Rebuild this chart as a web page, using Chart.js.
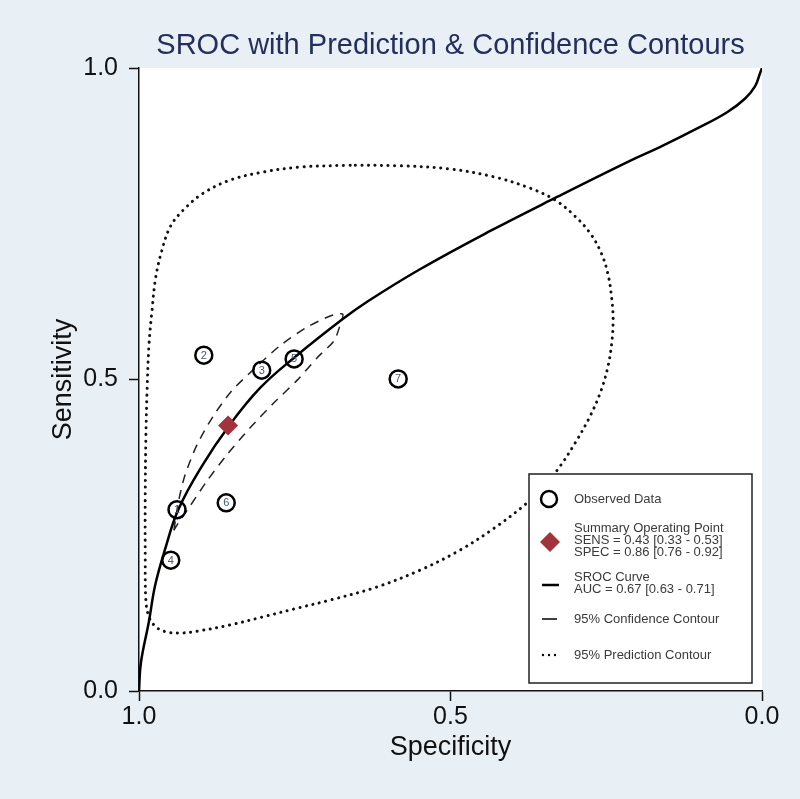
<!DOCTYPE html>
<html>
<head>
<meta charset="utf-8">
<script src="https://cdn.jsdelivr.net/npm/chart.js@4.4.0/dist/chart.umd.min.js"></script>
<style>
  html, body { margin: 0; padding: 0; background: #e9f0f5; }
  #wrap { width: 800px; height: 799px; }
</style>
</head>
<body>
<div id="wrap"><canvas id="sroc" width="800" height="799"></canvas></div>
<script>
// observed studies
const studyIds = ['1', '2', '3', '4', '5', '6', '7']
const studySpec = [0.939, 0.896, 0.803, 0.949, 0.751, 0.860, 0.584]
const studySens = [0.291, 0.539, 0.515, 0.210, 0.533, 0.302, 0.501]

// summary operating point
const summarySpec = [0.857]
const summarySens = [0.426]

// SROC curve
const srocSpec = [1.0, 0.997, 0.984, 0.974, 0.958, 0.937, 0.899, 0.856, 0.806, 0.751, 0.673, 0.632, 0.549, 0.437, 0.329, 0.212, 0.164, 0.100, 0.056, 0.027, 0.011, 0.003, 0.0]
const srocSens = [0.0, 0.045, 0.112, 0.170, 0.228, 0.291, 0.361, 0.425, 0.486, 0.535, 0.597, 0.626, 0.677, 0.738, 0.793, 0.851, 0.873, 0.905, 0.929, 0.951, 0.971, 0.992, 1.0]

// 95% confidence contour (closed)
const confSpec = [0.944, 0.936, 0.926, 0.907, 0.881, 0.851, 0.814, 0.774, 0.732, 0.693, 0.673, 0.677, 0.687, 0.714, 0.746, 0.785, 0.822, 0.859, 0.891, 0.918, 0.936, 0.944]
const confSens = [0.258, 0.307, 0.347, 0.395, 0.441, 0.482, 0.518, 0.554, 0.583, 0.602, 0.605, 0.588, 0.562, 0.535, 0.499, 0.461, 0.422, 0.379, 0.337, 0.297, 0.271, 0.258]

// 95% prediction contour (closed)
const predSpec = [0.661, 0.742, 0.801, 0.854, 0.897, 0.929, 0.950, 0.963, 0.973, 0.979, 0.984, 0.987, 0.989, 0.990, 0.990, 0.989, 0.984, 0.973, 0.957, 0.934, 0.907, 0.854, 0.801, 0.746, 0.693, 0.618, 0.549, 0.485, 0.429, 0.377, 0.348, 0.324, 0.300, 0.276, 0.258, 0.247, 0.241, 0.239, 0.241, 0.247, 0.258, 0.276, 0.300, 0.332, 0.372, 0.429, 0.501, 0.581, 0.661]
const predSens = [0.844, 0.841, 0.833, 0.820, 0.799, 0.772, 0.745, 0.708, 0.665, 0.612, 0.555, 0.483, 0.403, 0.307, 0.210, 0.146, 0.119, 0.103, 0.095, 0.093, 0.096, 0.106, 0.119, 0.133, 0.146, 0.167, 0.194, 0.226, 0.262, 0.302, 0.331, 0.361, 0.398, 0.441, 0.483, 0.522, 0.560, 0.596, 0.628, 0.668, 0.703, 0.735, 0.762, 0.788, 0.807, 0.825, 0.838, 0.843, 0.844]

const tickValues = [0, 0.5, 1]
const titleText = 'SROC with Prediction & Confidence Contours'
const legendLines = [
  ['Observed Data', 499],
  ['Summary Operating Point', 528],
  ['SENS = 0.43 [0.33 - 0.53]', 540],
  ['SPEC = 0.86 [0.76 - 0.92]', 552],
  ['SROC Curve', 577],
  ['AUC = 0.67 [0.63 - 0.71]', 589],
  ['95% Confidence Contour', 619],
  ['95% Prediction Contour', 655],
]

const FONT = '"Liberation Sans", Arial, sans-serif'

function pts(xs, ys) {
  return xs.map((x, i) => ({ x: x, y: ys[i] }))
}

// backgrounds: grey-blue page, white plot region
const bgPlugin = {
  id: 'bg',
  beforeDraw(chart) {
    const ctx = chart.ctx
    const a = chart.chartArea
    ctx.save()
    ctx.fillStyle = '#e9f0f5'
    ctx.fillRect(0, 0, chart.width, chart.height)
    ctx.fillStyle = '#ffffff'
    ctx.fillRect(a.left, a.top, a.right - a.left, a.bottom - a.top)
    ctx.restore()
  }
}

// numbers inside the study circles, title, and the boxed legend
const overlayPlugin = {
  id: 'overlay',
  afterDatasetsDraw(chart) {
    const ctx = chart.ctx
    const meta = chart.getDatasetMeta(0)
    ctx.save()
    ctx.font = '11px ' + FONT
    ctx.fillStyle = '#4b5878'
    ctx.textAlign = 'center'
    ctx.textBaseline = 'middle'
    meta.data.forEach((el, i) => {
      ctx.fillText(studyIds[i], el.x, el.y + 0.5)
    })
    ctx.restore()
  },
  afterDraw(chart) {
    const ctx = chart.ctx
    const a = chart.chartArea
    ctx.save()
    // title
    ctx.font = '29px ' + FONT
    ctx.fillStyle = '#24305c'
    ctx.textAlign = 'center'
    ctx.textBaseline = 'middle'
    ctx.fillText(titleText, (a.left + a.right) / 2, 46)

    // legend box
    const bx = 529, by = 474, bw = 223, bh = 209
    ctx.fillStyle = '#ffffff'
    ctx.fillRect(bx, by, bw, bh)
    ctx.strokeStyle = '#222'
    ctx.lineWidth = 1.5
    ctx.strokeRect(bx, by, bw, bh)

    // observed marker
    ctx.beginPath()
    ctx.arc(549, 499, 8, 0, Math.PI * 2)
    ctx.lineWidth = 2.5
    ctx.strokeStyle = '#000'
    ctx.stroke()
    // diamond
    ctx.beginPath()
    ctx.moveTo(550, 532); ctx.lineTo(560, 542); ctx.lineTo(550, 552); ctx.lineTo(540, 542)
    ctx.closePath()
    ctx.fillStyle = '#a3333a'
    ctx.fill()
    // sroc line
    ctx.beginPath()
    ctx.moveTo(542, 585); ctx.lineTo(559, 585)
    ctx.lineWidth = 2.5
    ctx.stroke()
    // confidence dash
    ctx.beginPath()
    ctx.moveTo(542, 619); ctx.lineTo(557, 619)
    ctx.lineWidth = 1.5
    ctx.stroke()
    // prediction dots
    ctx.fillStyle = '#000'
    ;[543, 549, 555].forEach(x => {
      ctx.beginPath()
      ctx.arc(x, 655, 1.2, 0, Math.PI * 2)
      ctx.fill()
    })

    ctx.font = '13px ' + FONT
    ctx.fillStyle = '#3a3a3a'
    ctx.textAlign = 'left'
    ctx.textBaseline = 'middle'
    legendLines.forEach(l => ctx.fillText(l[0], 574, l[1]))
    ctx.restore()
  }
}

function axis(pad) {
  return {
    type: 'linear',
    min: 0,
    max: 1,
    afterBuildTicks: s => { s.ticks = tickValues.map(v => ({ value: v })) },
    ticks: {
      callback: v => v.toFixed(1),
      color: '#111',
      font: { family: FONT, size: 25 },
      maxRotation: 0,
      padding: pad
    },
    grid: {
      drawOnChartArea: false,
      drawTicks: true,
      tickLength: 10,
      tickWidth: 1.5,
      tickColor: '#111'
    },
    border: { display: true, color: '#111', width: 1.5 }
  }
}

new Chart(document.getElementById('sroc'), {
  type: 'scatter',
  data: {
    datasets: [
      {
        label: 'Observed Data',
        data: pts(studySpec, studySens),
        pointStyle: 'circle',
        pointRadius: 8.5,
        pointBorderWidth: 2.5,
        pointBorderColor: '#000',
        pointBackgroundColor: 'rgba(0,0,0,0)',
        showLine: false
      },
      {
        label: 'Summary Operating Point',
        data: pts(summarySpec, summarySens),
        pointStyle: 'rectRot',
        pointRadius: 10,
        pointBorderWidth: 0,
        pointBackgroundColor: '#a3333a',
        showLine: false
      },
      {
        label: 'SROC Curve',
        data: pts(srocSpec, srocSens),
        showLine: true,
        pointRadius: 0,
        borderColor: '#000',
        borderWidth: 2.5,
        tension: 0.4
      },
      {
        label: '95% Confidence Contour',
        data: pts(confSpec, confSens),
        showLine: true,
        pointRadius: 0,
        borderColor: '#222',
        borderWidth: 1.5,
        borderDash: [9, 7],
        tension: 0.25
      },
      {
        label: '95% Prediction Contour',
        data: pts(predSpec, predSens),
        showLine: true,
        pointRadius: 0,
        borderColor: '#111',
        borderWidth: 3,
        borderDash: [0.1, 6.5],
        borderCapStyle: 'round',
        tension: 0.35
      }
    ]
  },
  options: {
    responsive: false,
    animation: false,
    layout: { padding: { top: 68, right: 38, left: 0, bottom: 0 } },
    plugins: {
      legend: { display: false },
      tooltip: { enabled: false }
    },
    scales: {
      x: Object.assign(axis(1), {
        reverse: true,
        position: 'bottom',
        afterFit: s => { s.height = 108 },
        title: {
          display: true,
          text: 'Specificity',
          color: '#111',
          font: { family: FONT, size: 27 },
          padding: { top: 0, bottom: 35 }
        }
      }),
      y: Object.assign(axis(11), {
        position: 'left',
        afterFit: s => { s.width = 139 },
        title: {
          display: true,
          text: 'Sensitivity',
          color: '#111',
          font: { family: FONT, size: 27 },
          padding: { top: 47, bottom: 0 }
        }
      })
    }
  },
  plugins: [bgPlugin, overlayPlugin]
})
</script>
</body>
</html>
